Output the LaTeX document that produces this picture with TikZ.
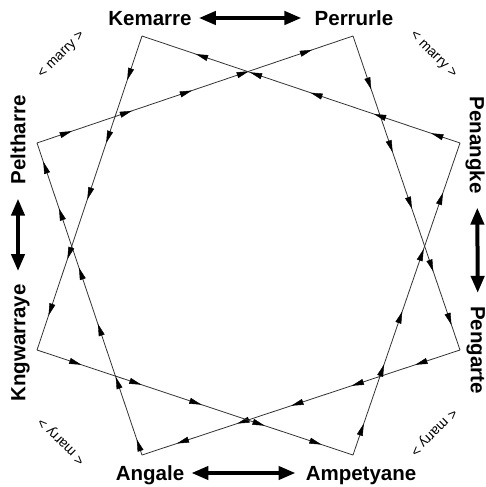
\documentclass[tikz,border=0pt]{standalone}
\usepackage{fontspec}
\setmainfont{Liberation Sans}
\usetikzlibrary{arrows.meta,decorations.markings}

\tikzset{
  section/.style={font=\fontsize{20.5}{24}\selectfont\bfseries,inner sep=0pt,text height=14.5pt,text depth=0pt},
  marry/.style={font=\fontsize{14}{16}\selectfont,inner sep=0pt},
  kin/.style={draw=black!80,line width=0.8pt},
  swap/.style={{Triangle[length=17pt,width=13pt]}-{Triangle[length=17pt,width=13pt]},line width=4pt}
}

\begin{document}
\begin{tikzpicture}[x=1pt,y=-1pt,>={Triangle[length=12pt,width=6pt]}]
    \useasboundingbox (0,0) rectangle (486,487);
    % corners of the two cycles
    \coordinate (kem) at (142,36);
    \coordinate (per) at (353,36);
    \coordinate (pen) at (460,143);
    \coordinate (peg) at (460,350);
    \coordinate (amp) at (353,455);
    \coordinate (ang) at (142,455);
    \coordinate (kng) at (37,350);
    \coordinate (pel) at (37,143);
    % section names
    \node[section] (kemarre) at (150,18) {Kemarre};
    \node[section] (perrurle) at (354,18) {Perrurle};
    \node[section,rotate=-90] (penangke) at (477,145) {Penangke};
    \node[section,rotate=-90] (pengarte) at (478,350) {Pengarte};
    \node[section] (ampetyane) at (361,473) {Ampetyane};
    \node[section] (angale) at (150,473) {Angale};
    \node[section,rotate=90] (kngwarraye) at (18,343) {Kngwarraye};
    \node[section,rotate=90] (peltharre) at (18,140) {Peltharre};
    % marriage pairs
    \draw[swap,shorten <=7pt,shorten >=13pt] (kemarre) -- (perrurle);
    \draw[swap,shorten <=14pt,shorten >=13pt] (penangke) -- (pengarte);
    \draw[swap,shorten <=10pt,shorten >=7pt] (ampetyane) -- (angale);
    \draw[swap,shorten <=13pt,shorten >=14pt] (kngwarraye) -- (peltharre);
    \node[marry,rotate=45] (marrytl) at (62,55) {< marry >};
    \node[marry,rotate=-45] (marrytr) at (433,55) {< marry >};
    \node[marry,rotate=-135] (marrybr) at (433,432) {< marry >};
    \node[marry,rotate=135] (marrybl) at (62,441) {< marry >};
    % descent cycles
    \foreach \a/\b/\pos in {pel/per/{0.11,0.30,0.49,0.67,0.87},
                            per/peg/{0.17,0.37,0.55,0.75,0.92},
                            peg/ang/{0.14,0.34,0.53,0.70,0.89},
                            ang/pel/{0.05,0.25,0.42,0.60,0.79,0.94},
                            kem/kng/{0.14,0.34,0.52,0.71,0.89},
                            kng/amp/{0.14,0.33,0.52,0.72,0.90},
                            amp/pen/{0.10,0.29,0.46,0.66,0.84},
                            pen/kem/{0.09,0.27,0.47,0.66,0.83}}{
        \draw[kin] (\a) -- (\b);
        \foreach \p in \pos
            \path[decorate,decoration={markings,mark=at position \p with {\arrow{>}}}] (\a) -- (\b);
    }
\end{tikzpicture}
\end{document}
